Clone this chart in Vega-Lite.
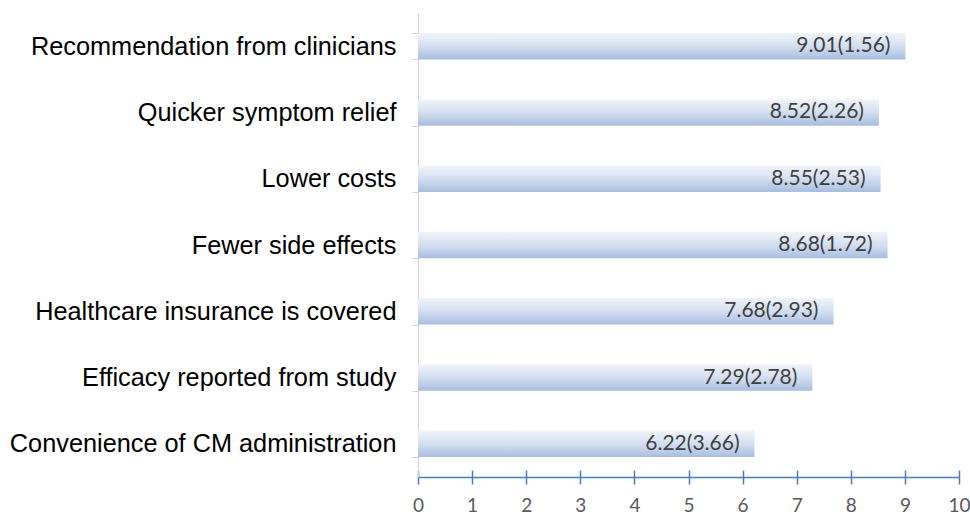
{
  "$schema": "https://vega.github.io/schema/vega-lite/v6.json",
  "autosize": {"type": "none"},
  "width": 541,
  "height": 464,
  "padding": {"left": 418, "top": 13, "right": 11, "bottom": 37},
  "background": "white",
  "config": {"view": {"stroke": null}},
  "data": {
    "values": [
      {"reason": "Recommendation from clinicians", "mean": 9.01, "label": "9.01(1.56)"},
      {"reason": "Quicker symptom relief", "mean": 8.52, "label": "8.52(2.26)"},
      {"reason": "Lower costs", "mean": 8.55, "label": "8.55(2.53)"},
      {"reason": "Fewer side effects", "mean": 8.68, "label": "8.68(1.72)"},
      {"reason": "Healthcare insurance is covered", "mean": 7.68, "label": "7.68(2.93)"},
      {"reason": "Efficacy reported from study", "mean": 7.29, "label": "7.29(2.78)"},
      {"reason": "Convenience of CM administration", "mean": 6.22, "label": "6.22(3.66)"}
    ]
  },
  "encoding": {
    "y": {
      "field": "reason",
      "type": "nominal",
      "sort": null,
      "title": null,
      "scale": {"paddingInner": 0.6, "paddingOuter": 0.3},
      "axis": {
        "tickBand": "extent",
        "domainColor": "#d0d0d0",
        "tickColor": "#d0d0d0",
        "tickSize": 6,
        "labelPadding": 16,
        "labelFont": "Liberation Sans",
        "labelFontSize": 25.3,
        "labelColor": "#000000",
        "labelLimit": 420
      }
    }
  },
  "resolve": {"axis": {"x": "independent"}},
  "layer": [
    {
      "mark": {
        "type": "bar",
        "color": {
          "gradient": "linear",
          "x1": 0, "y1": 0, "x2": 0, "y2": 1,
          "stops": [
            {"offset": 0, "color": "#f1f4fa"},
            {"offset": 0.5, "color": "#d3dff0"},
            {"offset": 1, "color": "#a7bedf"}
          ]
        }
      },
      "encoding": {
        "x": {
          "field": "mean",
          "type": "quantitative",
          "title": null,
          "scale": {"domain": [0, 10], "nice": false},
          "axis": {
            "orient": "bottom",
            "values": [0, 1, 2, 3, 4, 5, 6, 7, 8, 9, 10],
            "grid": false,
            "domainColor": "#4a7ebb",
            "domainWidth": 1.5,
            "tickColor": "#4a7ebb",
            "tickWidth": 1.5,
            "tickSize": 7,
            "labelPadding": 12,
            "labelFont": "Lato",
            "labelFontSize": 19,
            "labelColor": "#595959",
            "labelFlush": false
          }
        }
      }
    },
    {
      "mark": {"type": "text", "align": "right", "baseline": "middle", "dx": -15, "font": "Lato", "fontSize": 21, "color": "#404040"},
      "encoding": {
        "x": {
          "field": "mean",
          "type": "quantitative",
          "title": null,
          "axis": {
            "orient": "bottom",
            "values": [0, 1, 2, 3, 4, 5, 6, 7, 8, 9, 10],
            "grid": false,
            "domain": false,
            "labels": false,
            "tickColor": "#4a7ebb",
            "tickWidth": 1.5,
            "tickSize": -7
          }
        },
        "text": {"field": "label"}
      }
    }
  ]
}
